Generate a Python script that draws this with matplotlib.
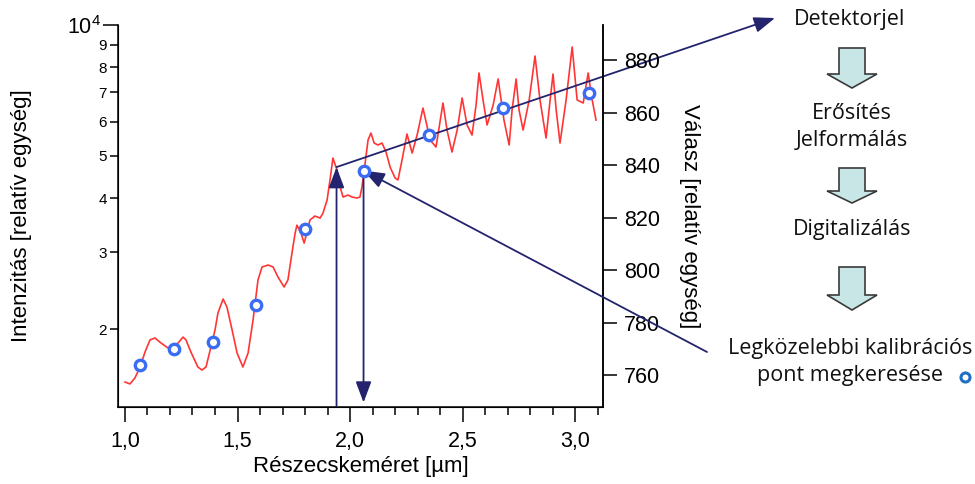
import numpy as np
import matplotlib.pyplot as plt
from matplotlib.patches import Polygon
from matplotlib.ticker import FixedLocator, FixedFormatter, FuncFormatter

plt.rcParams['font.family'] = ['Liberation Sans', 'DejaVu Sans']
plt.rcParams['mathtext.default'] = 'regular'

# detector signal (red curve), left log axis
size_um = [1.000, 1.022, 1.044, 1.067, 1.089, 1.111, 1.133, 1.160, 1.191, 1.213,
           1.236, 1.258, 1.271, 1.293, 1.324, 1.342, 1.360, 1.382, 1.400, 1.413,
           1.436, 1.453, 1.476, 1.498, 1.524, 1.547, 1.569, 1.591, 1.609, 1.636,
           1.658, 1.680, 1.707, 1.724, 1.742, 1.756, 1.764, 1.782, 1.796, 1.809,
           1.822, 1.844, 1.867, 1.880, 1.898, 1.911, 1.924, 1.942, 1.956, 1.969,
           1.991, 2.009, 2.031, 2.044, 2.053, 2.067, 2.080, 2.093, 2.107, 2.124,
           2.142, 2.160, 2.178, 2.200, 2.213, 2.231, 2.253, 2.276, 2.298, 2.324,
           2.356, 2.382, 2.413, 2.431, 2.453, 2.476, 2.498, 2.520, 2.542, 2.560,
           2.573, 2.591, 2.609, 2.636, 2.658, 2.684, 2.707, 2.720, 2.738, 2.751,
           2.769, 2.796, 2.822, 2.844, 2.871, 2.889, 2.902, 2.916, 2.933, 2.960,
           2.987, 3.009, 3.036, 3.058, 3.076, 3.093]
intensity = [1511, 1496, 1543, 1636, 1771, 1888, 1908, 1858, 1810, 1820,
             1858, 1917, 1888, 1771, 1636, 1610, 1636, 1820, 1990, 2177,
             2345, 2247, 1990, 1762, 1636, 1762, 2098, 2593, 2778, 2807,
             2778, 2634, 2499, 2593, 2991, 3324, 3467, 3324, 3153, 3343,
             3562, 3638, 3599, 3697, 3960, 4403, 4945, 4642, 4242, 4023,
             4066, 4023, 4002, 4023, 4242, 4815, 5440, 5645, 5354, 5298,
             5354, 5104, 4714, 4450, 4403, 4894, 5616, 5077, 5586, 6443,
             5440, 5242, 6617, 5735, 5104, 5735, 6796, 5890, 5586, 6548,
             7757, 6724, 5890, 6548, 7515, 6046, 5298, 6377, 7515, 6377,
             5735, 6724, 8485, 6724, 5498, 6724, 7716, 6377, 5354, 6724,
             8900, 6724, 6617, 7757, 6724, 6046]

# calibration points, right axis
cal_size = [1.067, 1.218, 1.39, 1.58, 1.80, 2.06, 2.35, 2.68, 3.06]
cal_resp = [763.7, 769.9, 772.5, 786.7, 815.8, 837.9, 851.3, 861.6, 867.4]

# measured example
det_size = 1.94
det_int = 4714
nearest = 5

steps = ['Detektorjel', 'Erősítés\nJelformálás', 'Digitalizálás',
         'Legközelebbi kalibrációs\npont megkeresése']

navy = '#23236e'
red = '#ff3535'
blue = '#3a6cf4'

fig = plt.figure(figsize=(9.75, 4.84), dpi=100)
W, H = 975, 484
ax = fig.add_axes([118 / W, 1 - 407 / H, 485 / W, 382 / H])
ax.plot(size_um, intensity, color=red, lw=1.2)
ax.set_yscale('log')
ax.set_ylim(1324, 10000)
ax.set_xlim(0.969, 3.124)

ax.spines['top'].set_visible(False)
for s in ['left', 'bottom', 'right']:
    ax.spines[s].set_linewidth(1.1)

ax.xaxis.set_major_locator(FixedLocator([1.0, 1.5, 2.0, 2.5, 3.0]))
ax.xaxis.set_minor_locator(FixedLocator(np.arange(1.0, 3.15, 0.1)))
ax.xaxis.set_major_formatter(FuncFormatter(lambda v, p: f'{v:.1f}'.replace('.', ',')))
ax.tick_params(axis='x', which='major', length=11, width=1.1, labelsize=15.5, pad=6)
ax.tick_params(axis='x', which='minor', length=6, width=1.1)

ax.yaxis.set_major_locator(FixedLocator([10000]))
ax.yaxis.set_major_formatter(FixedFormatter(['$10^4$']))
ax.yaxis.set_minor_locator(FixedLocator([2000, 3000, 4000, 5000, 6000, 7000, 8000, 9000]))
ax.yaxis.set_minor_formatter(FixedFormatter(['2', '3', '4', '5', '6', '7', '8', '9']))
ax.tick_params(axis='y', which='major', length=11, width=1.1, labelsize=15.5, pad=1)
ax.tick_params(axis='y', which='minor', length=6, width=1.1, labelsize=11, pad=2)

ax.set_xlabel('Részecskeméret [µm]', fontsize=16)
ax.xaxis.set_label_coords(0.501, -0.157)
ax.xaxis.label.set_va('center')
ax.set_ylabel('Intenzitás [relatív egység]', fontsize=16)
ax.yaxis.set_label_coords(-0.198, 0.5)
ax.yaxis.label.set_va('center')

ax2 = ax.twinx()
ax2.set_ylim(747.8, 893.4)
ax2.spines['top'].set_visible(False)
ax2.spines['right'].set_linewidth(1.1)
ax2.set_yticks([760, 780, 800, 820, 840, 860, 880])
ax2.tick_params(axis='y', length=10, width=1.1, labelsize=15.5, pad=5)
ax2.plot(cal_size, cal_resp, 'o', ms=7.5, mfc='white', mec=blue, mew=2.4, ls='none', zorder=5)
ax2.set_ylabel('Válasz [relatív egység]', fontsize=16, rotation=270)
ax2.yaxis.set_label_coords(1.179, 0.5)
ax2.yaxis.label.set_va('center')

arrow = dict(arrowstyle='-|>,head_length=0.8,head_width=0.3', color=navy, lw=1.3,
             shrinkA=0, shrinkB=0, mutation_scale=16)
# up arrow from x axis to the curve
ax.annotate('', xy=(det_size, det_int), xytext=(det_size, 1324),
            arrowprops=arrow, annotation_clip=False)
# from the curve to the detector signal
ax.annotate('', xy=(775 / W, 1 - 18 / H), xycoords='figure fraction',
            xytext=(det_size, det_int), textcoords='data',
            arrowprops=arrow, annotation_clip=False)
# from the flow chart back to the nearest calibration point
ax2.annotate('', xy=(cal_size[nearest], cal_resp[nearest]),
             xytext=(707 / W, 1 - 352 / H), textcoords='figure fraction',
             arrowprops=arrow, annotation_clip=False)
# down arrow to the x axis
ax2.annotate('', xy=(cal_size[nearest], 749.5),
             xytext=(cal_size[nearest], cal_resp[nearest]),
             arrowprops=arrow, annotation_clip=False)

# flow chart on the right
ov = fig.add_axes([0, 0, 1, 1])
ov.set_xlim(0, W)
ov.set_ylim(H, 0)
ov.axis('off')
ov.patch.set_alpha(0)

def block_arrow(cx, top, neck, tip, sw=13, hw=25):
    pts = [(cx - sw, top), (cx + sw, top), (cx + sw, neck), (cx + hw, neck),
           (cx, tip), (cx - hw, neck), (cx - sw, neck)]
    ov.add_patch(Polygon(pts, closed=True, fc='#c8e6e6', ec='#3a3a3a', lw=1.2))

block_arrow(852, 48, 74, 88)
block_arrow(852, 168, 191, 203)
block_arrow(852, 267, 295, 310)

flow = dict(fontsize=15.5, color='#111111', ha='center', va='center',
            family=['Open Sans', 'DejaVu Sans'], linespacing=1.4)
ov.text(850, 20, steps[0], **flow)
ov.text(852, 127, steps[1], **flow)
ov.text(852, 230, steps[2], **flow)
ov.text(850, 362, steps[3], **flow)
ov.plot([965], [377], 'o', ms=6.5, mfc='white', mec='#1f6fc4', mew=2.2)

fig.savefig('out.png', dpi=100)
